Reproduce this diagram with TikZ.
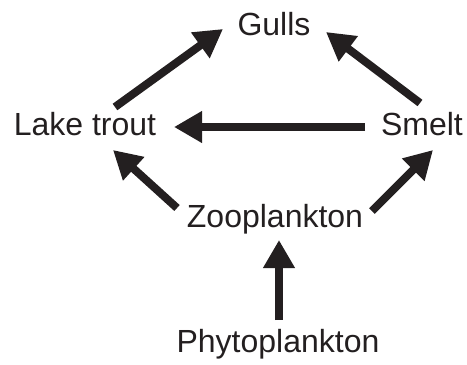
\documentclass[tikz,border=0pt]{standalone}
\usepackage{fontspec}
\setmainfont{Liberation Sans}
\usetikzlibrary{arrows.meta}
\definecolor{ink}{HTML}{231F20}
\begin{document}
\begin{tikzpicture}[x=1pt,y=-1pt,
  lbl/.style={inner sep=0pt,anchor=base,text=ink,font=\fontsize{32}{38}\selectfont},
  arr/.style={draw=ink,line width=8pt,-{Triangle[length=28pt,width=30pt]}}]
\useasboundingbox (0,0) rectangle (467,365);
\node[lbl] (gulls) at (274,35) {Gulls};
\node[lbl] (lt) at (85,135) {Lake trout};
\node[lbl] (sm) at (422,135) {Smelt};
\node[lbl] (zoo) at (275,227) {Zooplankton};
\node[lbl] (phy) at (278,352) {Phytoplankton};
\draw[arr] ([shift={(30,-28)}]lt.base) -- ([shift={(-51,-6)}]gulls.base);
\draw[arr] ([shift={(-2,-32)}]sm.base) -- ([shift={(52,-3)}]gulls.base);
\draw[arr] ([shift={(-57,-8)}]sm.base) -- ([shift={(89,-8)}]lt.base);
\draw[arr] ([shift={(-98,-19)}]zoo.base) -- ([shift={(28,15)}]lt.base);
\draw[arr] ([shift={(97,-16)}]zoo.base) -- ([shift={(11,15)}]sm.base);
\draw[arr] ([shift={(1,-32)}]phy.base) -- ([shift={(4,13)}]zoo.base);
\end{tikzpicture}
\end{document}
